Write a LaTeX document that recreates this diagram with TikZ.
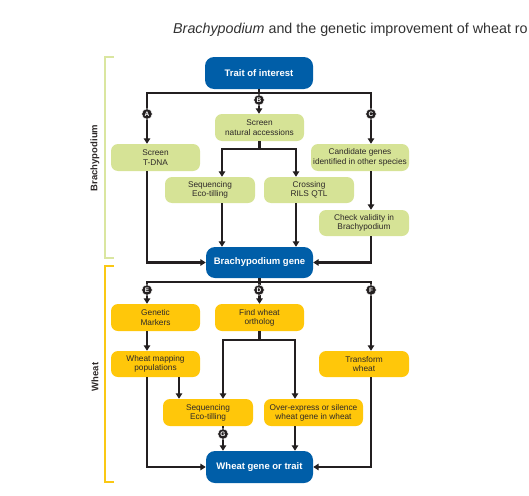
\documentclass[tikz,border=0pt]{standalone}
\usepackage{fontspec}
\setmainfont{Liberation Sans}
\usetikzlibrary{arrows.meta}
\definecolor{bblue}{RGB}{0,94,168}
\definecolor{bgreen}{RGB}{214,227,150}
\definecolor{byellow}{RGB}{255,199,10}
\definecolor{gbrack}{RGB}{218,230,160}
\definecolor{ybrack}{RGB}{250,200,20}
\definecolor{lncol}{RGB}{35,31,32}
\definecolor{txt}{RGB}{45,40,40}
\definecolor{head}{RGB}{50,50,50}
\tikzset{
  box/.style={rounded corners=7pt, minimum height=27pt, inner sep=0pt, align=center,
    font=\fontsize{8.3}{9.3}\selectfont, text=txt},
  gbox/.style={box, fill=bgreen},
  ybox/.style={box, fill=byellow},
  bbox/.style={box, fill=bblue, text=white, rounded corners=9pt,
    font=\bfseries\fontsize{9.5}{11}\selectfont},
  ln/.style={draw=lncol, line width=2.1pt, line join=miter},
  arr/.style={ln, -{Triangle[length=5.5pt,width=6.5pt]}},
  lbl/.style={circle, fill=lncol, draw=white, line width=0.5pt, text=white,
    font=\bfseries\fontsize{6.5}{6.5}\selectfont, inner sep=0pt, minimum size=10.5pt},
  brk/.style={line width=1.8pt},
  side/.style={rotate=90, font=\bfseries\fontsize{9.5}{11}\selectfont, text=txt}
}
\begin{document}
\begin{tikzpicture}[x=1pt,y=-1pt]
\useasboundingbox (0,0) rectangle (529,495);
\clip (0,0) rectangle (529,495);
% header
\node[anchor=base west, inner sep=0pt, font=\fontsize{14.3}{17}\selectfont, text=head] (hd) at (173,34) {\textit{Brachypodium} and the genetic improvement of wheat ro};
% brackets
\draw[brk, draw=gbrack] (114,57) -- (105,57) -- (105,258) -- (114,258);
\draw[brk, draw=ybrack] (114,266) -- (105,266) -- (105,482) -- (114,482);
\node[side] (lb1) at (95,158) {Brachypodium};
\node[side] (lb2) at (95,377) {Wheat};
% boxes
\node[bbox, minimum width=108pt, minimum height=32pt] (trait) at (259,73) {Trait of interest};
\node[gbox, minimum width=89pt] (tdna) at (155.5,157.5) {Screen\\T-DNA};
\node[gbox, minimum width=89pt] (nat) at (259.5,127.5) {Screen\\natural accessions};
\node[gbox, minimum width=98pt] (cand) at (360,157.5) {Candidate genes\\identified in other species};
\node[gbox, minimum width=90pt, minimum height=26pt] (seq1) at (210,190) {Sequencing\\Eco-tilling};
\node[gbox, minimum width=90pt, minimum height=26pt] (cross) at (309,190) {Crossing\\RILS QTL};
\node[gbox, minimum width=90pt, minimum height=26pt] (check) at (364,223) {Check validity in\\Brachypodium};
\node[bbox, minimum width=107pt, minimum height=31pt] (bgene) at (259.5,262.5) {Brachypodium gene};
\node[ybox, minimum width=89pt] (gm) at (155.5,317.5) {Genetic\\Markers};
\node[ybox, minimum width=89pt] (fwo) at (259.5,317.5) {Find wheat\\ortholog};
\node[ybox, minimum width=89pt, minimum height=26pt] (wmp) at (155.5,364) {Wheat mapping\\populations};
\node[ybox, minimum width=90pt, minimum height=26pt] (tw) at (364,364) {Transform\\wheat};
\node[ybox, minimum width=90pt] (seq2) at (208,412.5) {Sequencing\\Eco-tilling};
\node[ybox, minimum width=99pt] (over) at (313.5,412.5) {Over-express or silence\\wheat gene in wheat};
\node[bbox, minimum width=107pt, minimum height=32pt] (wgt) at (259.5,467) {Wheat gene or trait};
% junction coordinates
\coordinate (jA) at (147,93);
\coordinate (jC) at (371,93);
\coordinate (s1) at (222,149);
\coordinate (c1) at (296,149);
\coordinate (jE) at (147,282);
\coordinate (jF) at (371,282);
\coordinate (m2) at (179,377);
\coordinate (s2) at (223,340);
\coordinate (o2) at (295,340);
% upper connectors
\draw[arr] (trait.south) -- (trait.south |- nat.north);
\draw[arr] (trait.south |- jA) -| (jA |- tdna.north);
\draw[arr] (trait.south |- jC) -| (jC |- cand.north);
\draw[arr] (nat.south) -- (nat.south |- s1) -| (s1 |- seq1.north);
\draw[arr] (nat.south |- c1) -| (c1 |- cross.north);
\draw[arr] (s1 |- seq1.south) -- (s1 |- bgene.north);
\draw[arr] (c1 |- cross.south) -- (c1 |- bgene.north);
\draw[arr] (jC |- cand.south) -- (jC |- check.north);
\draw[arr] (jC |- check.south) |- (bgene.east);
\draw[arr] (jA |- tdna.south) |- (bgene.west);
% lower connectors
\draw[arr] (bgene.south) -- (bgene.south |- fwo.north);
\draw[arr] (bgene.south |- jE) -| (jE |- gm.north);
\draw[arr] (bgene.south |- jF) -| (jF |- tw.north);
\draw[arr] (jE |- gm.south) -- (jE |- wmp.north);
\draw[arr] (jE |- wmp.south) |- (wgt.west);
\draw[arr] (m2 |- wmp.south) -- (m2 |- seq2.north);
\draw[arr] (fwo.south) -- (fwo.south |- s2) -| (s2 |- seq2.north);
\draw[arr] (fwo.south |- o2) -| (o2 |- over.north);
\draw[arr] (s2 |- seq2.south) -- (s2 |- wgt.north);
\draw[arr] (o2 |- over.south) -- (o2 |- wgt.north);
\draw[arr] (jF |- tw.south) |- (wgt.east);
% letter markers
\node[lbl] (mA) at (147,114) {A};
\node[lbl] (mB) at (259,100) {B};
\node[lbl] (mC) at (371,114) {C};
\node[lbl] (mE) at (147,290) {E};
\node[lbl] (mD) at (259,290) {D};
\node[lbl] (mF) at (371,290) {F};
\node[lbl] (mG) at (223,434) {G};
\end{tikzpicture}
\end{document}
